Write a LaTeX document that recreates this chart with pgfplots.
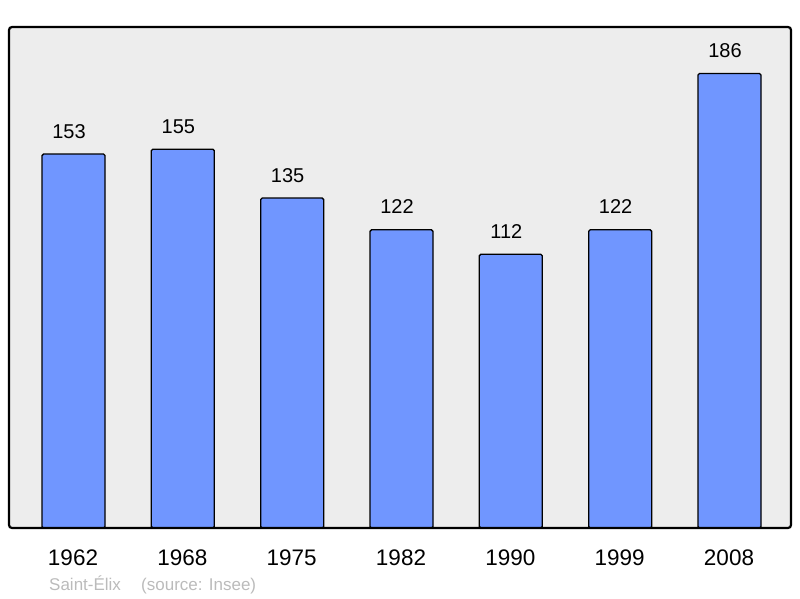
\documentclass[border=0pt]{standalone}
\usepackage{fontspec}
\setmainfont{Liberation Sans}
\usepackage{pgfplots}
\pgfplotsset{compat=1.18}
\definecolor{barblue}{HTML}{7096FF}
\definecolor{plotbg}{HTML}{EDEDED}
\definecolor{footgray}{HTML}{BBBBBB}
\begin{document}
\begin{tikzpicture}[x=1pt,y=1pt]
  \path[use as bounding box] (0,0) rectangle (800,598);
  \begin{axis}[
    at={(9pt,70pt)}, anchor=south west,
    scale only axis,
    width=782pt, height=501pt,
    xmin=-0.59, xmax=6.5625,
    ymin=0, ymax=205,
    axis line style={draw=none},
    axis background/.style={fill=plotbg},
    xtick=data,
    xticklabels={1962,1968,1975,1982,1990,1999,2008},
    xticklabel style={font=\fontsize{22.5}{26}\selectfont, anchor=base, inner sep=0pt, yshift=-37pt, xshift=-0.5pt},
    ytick=\empty,
    major tick length=0pt,
    ybar, bar width=63pt,
    /pgf/number format/assume math mode=true,
    nodes near coords,
    every node near coord/.append style={font=\fontsize{20}{23}\selectfont, anchor=base, yshift=16pt, xshift=-4.5pt, black},
    clip=false,
  ]
    \addplot[fill=barblue, draw=black, line width=1.3pt, rounded corners=1.5pt]
      coordinates {(0,153) (1,155) (2,135) (3,122) (4,112) (5,122) (6,186)};
    \draw[line width=2.2pt, rounded corners=3pt] (rel axis cs:0,0) rectangle (rel axis cs:1,1);
  \end{axis}
  \node[anchor=base west, inner sep=0, text=footgray, font=\fontsize{17}{20}\selectfont] at (49,8) {Saint-Élix};
  \node[anchor=base west, inner sep=0, text=footgray, font=\fontsize{17}{20}\selectfont] at (141,8) {(source: Insee)};
\end{tikzpicture}
\end{document}
